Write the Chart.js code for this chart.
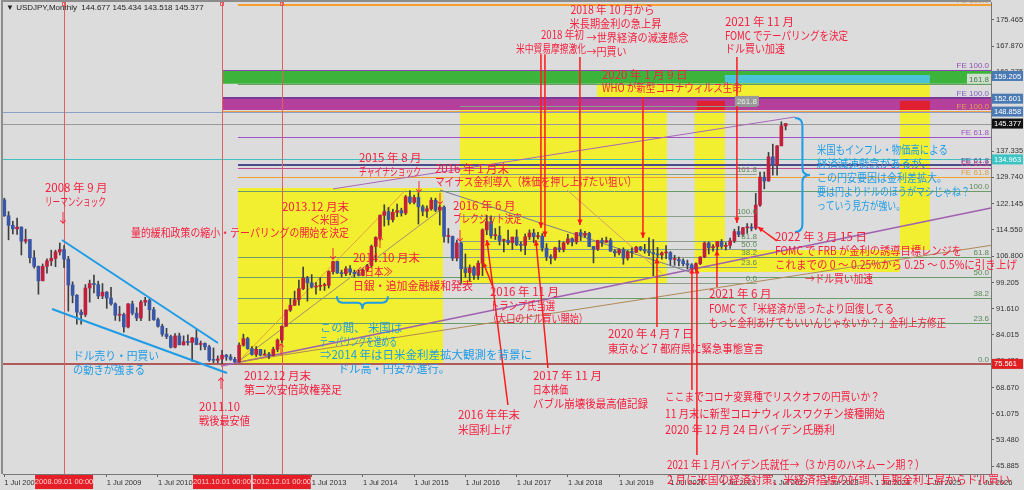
<!DOCTYPE html>
<html><head><meta charset="utf-8">
<script src="https://cdn.jsdelivr.net/npm/chart.js@4/dist/chart.umd.min.js"></script>
<style>html,body{margin:0;padding:0;background:#dcdcdc;}canvas{display:block}</style>
</head><body>
<canvas id="c" width="1024" height="490"></canvas>
<script>
// ---- data: USDJPY monthly, Jul 2007 .. Oct 2022 ----
const START_YEAR = 2007, START_MONTH = 7;
const opens = [
123.2,118.6,115.8,114.8,115.3,111.2,
111.7,106.4,103.9,99.7,103.9,105.5,106.2,108.1,108.8,106.0,98.5,95.5,
90.6,89.9,97.6,98.9,98.6,95.3,96.4,94.7,93.0,89.7,89.9,86.3,
93.0,90.3,88.9,93.5,94.0,91.3,88.4,86.5,84.2,83.5,80.4,83.7,
81.1,82.0,81.8,83.1,81.2,81.5,80.5,76.7,76.6,77.0,78.1,77.6,
76.9,76.2,81.0,82.9,80.0,78.3,79.8,78.1,78.4,78.0,79.8,82.5,
86.5,91.2,92.6,94.2,97.4,100.5,99.1,97.9,98.1,98.3,98.4,102.4,
105.3,102.0,101.8,103.2,102.2,101.8,101.3,102.8,104.1,109.7,112.3,118.7,
119.8,117.5,119.6,120.1,119.4,124.1,122.5,123.9,121.2,119.9,120.6,123.1,
120.2,121.1,112.6,112.6,106.3,110.7,103.2,102.1,103.4,101.3,104.8,114.5,
116.9,112.8,112.8,111.4,111.5,110.8,112.4,110.2,110.0,112.5,113.6,112.5,
112.7,109.2,106.7,106.3,109.3,108.8,110.7,111.9,111.0,113.7,112.9,113.5,
109.7,108.9,111.4,110.9,111.4,108.3,107.8,108.7,106.3,108.1,108.0,109.5,
108.7,108.4,107.9,107.5,107.2,107.8,107.9,105.9,105.9,105.5,104.7,104.3,
103.2,104.7,106.6,110.7,109.3,109.6,111.1,109.7,110.0,111.3,114.0,113.2,
115.1,115.1,115.0,121.7,129.8,128.7,135.7,133.3,138.9,144.677];
const highs = [
123.7,119.8,117.0,117.9,115.4,114.7,
111.7,108.5,104.0,104.6,106.1,108.6,108.6,110.7,109.9,106.8,99.4,95.7,
91.3,98.6,99.9,101.4,99.6,98.9,96.6,97.8,93.3,92.3,90.3,93.1,
93.8,91.9,94.0,94.9,94.5,92.0,88.9,87.1,85.9,83.9,84.4,84.5,
83.7,84.0,83.3,85.5,82.2,81.7,81.0,80.2,77.9,79.5,78.3,78.3,
77.5,81.7,84.2,83.3,80.6,80.6,79.8,79.6,78.9,80.4,82.8,86.6,
91.3,94.5,96.7,99.9,103.7,101.0,101.5,99.2,100.6,99.0,102.6,105.4,
105.4,102.8,103.8,104.1,102.8,102.8,103.1,104.5,110.1,112.5,118.9,121.8,
121.0,120.5,122.0,120.8,124.5,125.9,124.6,125.3,121.7,121.5,123.8,123.7,
121.7,121.5,114.9,112.7,111.5,110.9,107.5,104.3,104.0,105.5,114.8,118.7,
118.6,114.9,115.5,111.8,114.4,112.4,114.5,111.0,113.3,114.5,114.7,113.8,
113.4,110.5,107.3,109.5,111.4,111.0,113.2,112.2,113.7,114.6,114.1,113.8,
109.7,111.5,112.1,112.4,112.0,108.8,109.0,109.3,108.5,109.3,109.7,109.7,
110.3,112.2,111.7,109.4,108.1,109.9,108.2,107.1,106.6,106.1,105.7,104.7,
104.9,106.7,111.0,111.0,110.2,111.1,111.7,110.8,112.1,114.7,115.5,115.2,
116.35,116.3,125.1,131.3,131.3,137.0,139.4,139.0,145.9,145.434];
const lows = [
118.4,111.6,113.3,113.2,107.2,110.6,
104.9,103.4,95.8,99.7,101.9,104.1,103.8,107.2,103.5,90.9,93.3,87.1,
87.1,89.3,93.5,96.2,94.5,94.5,91.7,92.6,88.2,88.0,84.8,86.0,
89.8,88.1,88.1,92.5,88.1,88.2,86.2,83.6,82.9,80.2,80.2,81.1,
81.0,81.0,76.3,81.1,79.6,79.7,76.3,75.9,75.9,75.56,76.6,76.6,
76.0,76.1,80.7,79.8,78.1,77.7,77.9,78.1,77.1,77.9,79.1,81.7,
86.5,90.8,92.5,92.6,97.1,93.8,97.6,95.8,96.9,96.9,97.6,101.6,
101.8,100.8,101.2,101.4,100.8,101.1,101.1,102.4,103.8,105.2,111.5,115.6,
115.9,116.8,118.3,118.5,118.9,122.0,122.0,116.2,118.6,118.1,120.2,119.8,
115.9,110.9,110.7,105.6,105.5,99.0,100.7,99.6,100.1,100.1,101.2,113.1,
112.1,111.7,110.1,108.1,110.2,108.8,109.9,108.3,107.3,111.7,110.8,111.9,
108.3,105.6,104.6,105.7,108.1,108.1,110.3,109.8,110.4,111.4,112.3,109.6,
104.9,108.5,109.7,110.8,108.3,106.8,107.2,104.5,105.7,106.5,107.9,108.4,
107.7,107.0,101.2,106.4,106.0,106.1,104.2,104.2,104.0,104.0,103.2,102.9,
102.6,104.4,106.4,107.5,108.3,108.6,109.1,108.7,109.1,110.8,112.5,112.6,
113.5,114.2,114.6,121.3,126.4,128.6,130.4,130.4,138.9,143.518];
const closes = [
118.6,115.8,114.8,115.3,111.2,111.7,
106.4,103.9,99.7,103.9,105.5,106.2,108.1,108.8,106.0,98.5,95.5,90.6,
89.9,97.6,98.9,98.6,95.3,96.4,94.7,93.0,89.7,89.9,86.3,93.0,
90.3,88.9,93.5,94.0,91.3,88.4,86.5,84.2,83.5,80.4,83.7,81.1,
82.0,81.8,83.1,81.2,81.5,80.5,76.7,76.6,77.0,78.1,77.6,76.9,
76.2,81.0,82.9,80.0,78.3,79.8,78.1,78.4,78.0,79.8,82.5,86.5,
91.2,92.6,94.2,97.4,100.5,99.1,97.9,98.1,98.3,98.4,102.4,105.3,
102.0,101.8,103.2,102.2,101.8,101.3,102.8,104.1,109.7,112.3,118.7,119.8,
117.5,119.6,120.1,119.4,124.1,122.5,123.9,121.2,119.9,120.6,123.1,120.2,
121.1,112.6,112.6,106.3,110.7,103.2,102.1,103.4,101.3,104.8,114.5,116.9,
112.8,112.8,111.4,111.5,110.8,112.4,110.2,110.0,112.5,113.6,112.5,112.7,
109.2,106.7,106.3,109.3,108.8,110.7,111.9,111.0,113.7,112.9,113.5,109.7,
108.9,111.4,110.9,111.4,108.3,107.8,108.7,106.3,108.1,108.0,109.5,108.7,
108.4,107.9,107.5,107.2,107.8,107.9,105.9,105.9,105.5,104.7,104.3,103.2,
104.7,106.6,110.7,109.3,109.6,111.1,109.7,110.0,111.3,114.0,113.2,115.1,
115.1,115.0,121.7,129.8,128.7,135.7,133.3,138.9,144.7,145.377];
const yTickValues = [175.465,167.870,160.275,152.680,145.085,137.335,129.740,122.145,114.550,106.800,99.205,91.610,84.015,76.420,68.670,61.075,53.480,45.885];
const xTickLabels = ['1 Jul 2007','1 Jul 2008','1 Jul 2009','1 Jul 2010','1 Jul 2011','1 Jul 2012','1 Jul 2013','1 Jul 2014','1 Jul 2015','1 Jul 2016','1 Jul 2017','1 Jul 2018','1 Jul 2019','1 Jul 2020','1 Jul 2021','1 Jul 2022','1 Jul 2023','1 Jul 2024','1 Jul 2025','1 Jul 2026'];
const priceTags = [159.205,152.601,148.858,145.377,134.963,75.561];
const fib1 = {low:75.561, high:125.86, levels:[0,23.6,38.2,50,61.8,100,161.8]};
const fib2 = {low:98.98, high:118.66, levels:[0,23.6,38.2,50,61.8,100,161.8,261.8]};

// month index from 'YYYY-MM'
const monthLabels = opens.map((_, i) => { const m = START_MONTH - 1 + i; return (START_YEAR + Math.floor(m/12)) + '-' + String(m%12+1).padStart(2,'0'); });
const M = s => monthLabels.indexOf(s);

const wickData = opens.map((_, i) => ({x: i, y: [lows[i], highs[i]]}));
const bodyData = opens.map((_, i) => ({x: i, y: [opens[i], closes[i]]}));
const bodyColors = opens.map((o, i) => closes[i] >= o ? '#c0203c' : '#3a56a6');

const RED = '#f5203f', BLUE = '#1e9ce6', LRED = '#ff1a1a';
const JP = '"Noto Sans CJK JP","Noto Sans",sans-serif';

const notes = [
 {x:9.53, y:126.66, c:RED, lh:14, lines:[['2008 年 9 月',63],['リーマンショック',61]]},
 {x:80.73, y:121.14, c:RED, lh:13, align:'right', lines:[['2013.12 月末',70],['＜米国＞',39],['量的緩和政策の縮小・テーパリングの開始を決定',218]]},
 {x:83.07, y:135.37, c:RED, lh:13.5, lines:[['2015 年 8 月',63],['チャイナショック',62]]},
 {x:100.87, y:132.18, c:RED, lh:13, lines:[['2016 年 1 月末',75],['マイナス金利導入（株価を押し上げたい狙い）',202]]},
 {x:105.08, y:121.43, c:RED, lh:12.5, lines:[['2016 年 6 月',64],['ブレクジット決定',69]]},
 {x:81.66, y:106.33, c:RED, lh:14, lines:[['2014.10 月末',70],['≪日本≫',38,2],['日銀・追加金融緩和発表',120]]},
 {x:113.75, y:96.45, c:RED, lh:13.5, lines:[['2016 年 11 月',70],['トランプ氏当選',65],['（大口のドル買い開始）',100,-2]]},
 {x:123.82, y:72.05, c:RED, lh:14, lines:[['2017 年 11 月',71],['日本株価',35],['バブル崩壊後最高値記録',115]]},
 {x:106.25, y:60.72, c:RED, lh:15, lines:[['2016 年年末',62],['米国利上げ',54]]},
 {x:141.38, y:84.25, c:RED, lh:15, lines:[['2020 年 4 月 7 日',86],['東京など 7 都府県に緊急事態宣言',156]]},
 {x:165.03, y:95.87, c:RED, lh:14.5, lines:[['2021 年 6 月',67],['FOMC で「米経済が思ったより回復してる',185],['もっと金利あげてもいいんじゃないか？」金利上方修正',237]]},
 {x:180.49, y:112.42, c:RED, lh:14, lines:[['2022 年 3 月 15 日',92],['FOMC で FRB が金利の誘導目標レンジを',187],['これまでの 0 〜 0.25%から 0.25 〜 0.5%に引き上げ',242],['→ドル買い加速',68,30]]},
 {x:154.73, y:65.95, c:RED, lh:16.5, lines:[['ここまでコロナ変異種でリスクオフの円買いか？',215],['11 月末に新型コロナウィルスワクチン接種開始',220],['2020 年 12 月 24 日バイデン氏勝利',170]]},
 {x:155.2, y:46.19, c:RED, lh:15, lines:[['2021 年 1 月バイデン氏就任→（3 か月のハネムーン期？）',258],['2 月に米国の経済対策、米経済指標の好調、長期金利上昇からドル買い',343]]},
 {x:125.7, y:171.11, c:RED, lh:13.5, lines:[['2018 年初',43],['米中貿易摩擦激化',70,-25]]},
 {x:132.6, y:178.37, c:RED, lh:14, lines:[['2018 年 10 月から',84],['米長期金利の急上昇',92,-1],['→世界経済の減速懸念',102,16],['→円買い',40,16]]},
 {x:168.78, y:174.88, c:RED, lh:13.5, lines:[['2021 年 11 月',70],['FOMC でテーパリングを決定',123],['ドル買い加速',60]]},
 {x:139.98, y:159.49, c:RED, lh:13, lines:[['2020 年 1 月 9 日',86],['WHO が新型コロナウィルス生命',140]]},
 {x:56.14, y:72.05, c:RED, lh:14, lines:[['2012.12 月末',70],['第二次安倍政権発足',98]]},
 {x:45.6, y:63.04, c:RED, lh:14, lines:[['2011.10',41],['戦後最安値',51]]},
 {x:16.09, y:77.86, c:BLUE, lh:14, lines:[['ドル売り・円買い',86],['の動きが強まる',72]]},
 {x:73.94, y:85.99, c:BLUE, lh:13.5, lines:[['この間、 米国は',82],['テーパリングを進める',77],['⇒2014 年は日米金利差拡大観測を背景に',227],['ドル高・円安が進行。',112,18]]},
 {x:190.33, y:137.7, c:BLUE, lh:14, lines:[['米国もインフレ・物価高による',131],['経済減速懸念があるが、',115],['この円安要因は金利差拡大。',130],['要は円よりドルのほうがマシじゃね？',153],['っていう見方が強い。',88]]}
];
const arrowsDown = [[13.75,118.2],[76.98,107.78],[97.12,127.24],[102.04,123.76],[106.72,113.0]];
const arrowsUp = [[87.99,110.97],[64.8,79.89],[50.75,70.02]];
// pointer lines [x1,p1,x2,p2] arrow head at end
const pointers = [
 [114.45,97.9,112.11,105.16],[117.96,63.62,113.04,111.55],[127.33,74.37,124.5,111.55],
 [125.69,165.5,125.69,115.04],[126.63,165.5,126.63,112.42],[134.82,164.7,134.82,115.91],
 [149.58,153.1,149.58,112.13],[171.59,164.72,171.59,116.5],[180.96,111.3,176.51,115.33],
 [166.91,97.9,166.91,108.65],[152.86,86.28,152.86,106.33],[161.05,67.98,161.05,103.42],[162.22,49.1,162.22,103.42]
];

const overlay = {
 id:'overlay',
 beforeDraw(chart){ const c=chart.ctx; c.save(); c.fillStyle='#dcdcdc'; c.fillRect(0,0,chart.width,chart.height); c.restore(); },
 beforeDatasetsDraw(chart){
  const c=chart.ctx, xs=chart.scales.x, ys=chart.scales.y, a=chart.chartArea;
  const X=v=>xs.getPixelForValue(v), Y=v=>ys.getPixelForValue(v), XR=xs.max, XL=xs.min;
  c.save(); c.beginPath(); c.rect(a.left,a.top,a.right-a.left,a.bottom-a.top); c.clip();
  const rect=(x1,p1,x2,p2,col)=>{c.fillStyle=col; c.fillRect(X(x1),Y(p1),X(x2)-X(x1),Y(p2)-Y(p1));};
  const hl=(p,x1,x2,col,w)=>{c.strokeStyle=col; c.lineWidth=w||1; const y=Math.round(Y(p))+((w||1)%2?0.5:0); c.beginPath(); c.moveTo(X(x1),y); c.lineTo(X(x2),y); c.stroke();};
  const ln=(x1,p1,x2,p2,col,w)=>{c.strokeStyle=col; c.lineWidth=w||1; c.beginPath(); c.moveTo(X(x1),Y(p1)); c.lineTo(X(x2),Y(p2)); c.stroke();};
  const Y0=M('2011-10'), Y1=54.73;
  // yellow boxes
  const YEL='#f2ef30';
  rect(Y1,126.66,102.74,75.83,YEL);
  rect(106.72,149.32,155.2,99.06,YEL);
  rect(161.7,149.32,168.78,102.26,YEL);
  rect(161.7,108.65,209.77,102.26,YEL);
  rect(209.77,149.32,216.79,108.65,YEL);
  // top bands
  rect(Y0,160.94,XR,156.95,'#3cb43c');
  rect(168.78,159.49,216.79,157.17,'#4ac4d6');
  rect(138.8,156.95,216.79,152.81,YEL);
  rect(Y0,152.81,XR,149.32,'#b4409c');
  rect(162.22,152.0,168.78,149.32,'#e02030');
  rect(209.77,152.0,216.79,149.32,'#e02030');
  hl(152.81,Y0,XR,'#7a3c98',2);
  hl(160.94,Y0,XR,'#8a4ab0',1);
  hl(179.82,Y1,XR,'#f5a030',2);
  hl(149.0,Y0,XR,'#f0a040',1);
  hl(148.74,XL,XR,'#8aa0c6',1);
  hl(145.377,XL,XR,'#9a9a9a',1);
  hl(141.48,Y1,XR,'#a050c8',1);
  hl(134.963,XL,XR,'#40c0c0',1);
  hl(133.34,Y1,XR,'#4c4c8c',2);
  hl(132.47,Y1,XR,'#c04890',1);
  hl(129.86,Y1,XR,'#f0a030',1);
  // fib 1
  fib1.levels.forEach(l=>{ const p=fib1.low+(fib1.high-fib1.low)*l/100; if(l===0) hl(p,XL,XR,'#b05a5a',2); else hl(p,Y1,XR,'#6a9c6a',1); });
  // fib 2
  fib2.levels.forEach(l=>{ const p=fib2.low+(fib2.high-fib2.low)*l/100; hl(p,106.72,176.28,'#8aa08a',1); });
  // trend lines
  ln(50.75,74.96,231.07,120.85,'#a060b0',1.5);
  ln(77,126.4,185.2,147.3,'#a868b8',1);
  ln(102.04,126.08,160.59,102.26,'#7a7a90',1);
  ln(131.8,126.08,153.9,102.0,'#d8a060',1);
  ln(Y1,76.12,94.0,126.08,'#e8a040',1);
  ln(Y1,76.12,102.74,120.85,'#a09070',1);
  ln(Y1,76.12,231.07,110.0,'#b08858',1);
  // MT4 vertical lines
  [M('2008-09'),M('2011-10'),M('2012-12')].forEach(m=>{ const x=Math.round(X(m))+0.5; c.strokeStyle='#e06060'; c.lineWidth=1; c.beginPath(); c.moveTo(x,a.top); c.lineTo(x,a.bottom); c.stroke(); });
  c.restore();
 },
 afterDatasetsDraw(chart){
  const c=chart.ctx, xs=chart.scales.x, ys=chart.scales.y, a=chart.chartArea;
  const X=v=>xs.getPixelForValue(v), Y=v=>ys.getPixelForValue(v);
  c.save();
  // blue channel
  c.strokeStyle=BLUE; c.lineWidth=2;
  [[13.51,111.55,50.05,81.63],[11.17,91.51,52.15,72.92]].forEach(s=>{c.beginPath(); c.moveTo(X(s[0]),Y(s[1])); c.lineTo(X(s[2]),Y(s[3])); c.stroke();});
  // pointers
  pointers.forEach(s=>{
   const x1=X(s[0]),y1=Y(s[1]),x2=X(s[2]),y2=Y(s[3]);
   c.strokeStyle=LRED; c.fillStyle=LRED; c.lineWidth=1.5;
   c.beginPath(); c.moveTo(x1,y1); c.lineTo(x2,y2); c.stroke();
   const ang=Math.atan2(y2-y1,x2-x1), h=6;
   c.beginPath(); c.moveTo(x2,y2); c.lineTo(x2-h*Math.cos(ang-0.45),y2-h*Math.sin(ang-0.45)); c.lineTo(x2-h*Math.cos(ang+0.45),y2-h*Math.sin(ang+0.45)); c.closePath(); c.fill();
  });
  // arrows glyphs
  c.font='13px '+JP; c.fillStyle=RED; c.textAlign='center'; c.textBaseline='middle';
  arrowsDown.forEach(p=>c.fillText('↓',X(p[0]),Y(p[1])));
  arrowsUp.forEach(p=>c.fillText('↑',X(p[0]),Y(p[1])));
  // braces
  c.strokeStyle=BLUE; c.lineWidth=2;
  { const xL=X(185.18), xT=X(188.69), yT=Y(147.0), yB=Y(113.88), yM=(yT+yB)/2, xm=(xL+xT)/2;
    c.beginPath(); c.moveTo(xL,yT); c.quadraticCurveTo(xm,yT,xm,yT+8); c.lineTo(xm,yM-7); c.quadraticCurveTo(xm,yM,xT,yM); c.quadraticCurveTo(xm,yM,xm,yM+7); c.lineTo(xm,yB-8); c.quadraticCurveTo(xm,yB,xL,yB); c.stroke(); }
  { const xL=X(77.9), xR=X(89.86), yT=Y(95.2), yTip=Y(91.51), yM=(yT+yTip)/2, xc=(xL+xR)/2;
    c.beginPath(); c.moveTo(xL,yT); c.quadraticCurveTo(xL,yM,xL+6,yM); c.lineTo(xc-5,yM); c.quadraticCurveTo(xc,yM,xc,yTip); c.quadraticCurveTo(xc,yM,xc+5,yM); c.lineTo(xR-6,yM); c.quadraticCurveTo(xR,yM,xR,yT); c.stroke(); }
  // level labels
  c.font='8px "Liberation Sans",sans-serif'; c.textBaseline='alphabetic'; c.textAlign='right';
  const RX=a.right-2;
  const lab=(t,p,col,x,bg)=>{ const xx=x||RX, yy=Y(p)-2; if(bg){ const w=c.measureText(t).width; c.fillStyle=bg; c.fillRect(xx-w-2,yy-8,w+4,10);} c.fillStyle=col; c.fillText(t,xx,yy);};
  fib1.levels.forEach(l=>{ const p=fib1.low+(fib1.high-fib1.low)*l/100; if(l===161.8) lab('161.8',p,'#4a7a4a',RX,'#cfe0cf'); else lab(l.toFixed(1),p,'#5a8a5a'); });
  fib2.levels.forEach(l=>{ const p=fib2.low+(fib2.high-fib2.low)*l/100; if(l===261.8) lab('261.8',p,'#e8f0e8',X(176.28),'#9a9a9a'); else lab(l.toFixed(1),p,'#5a8a5a',X(176.28)); });
  lab('FE 100.0',179.82,'#e89a40'); lab('FE 100.0',160.94,'#9050b0'); lab('FE 100.0',152.81,'#8060c0'); lab('FE 100.0',149.0,'#e0a050');
  lab('FE 61.8',141.48,'#a050c8'); lab('FE 61.8',133.34,'#5050a0'); lab('FE 61.8',132.47,'#d04890'); lab('FE 61.8',129.86,'#e0a040');
  // notes
  notes.forEach(n=>{
   c.font='11.5px '+JP; c.fillStyle=n.c; c.textBaseline='middle'; c.textAlign=n.align||'left';
   const x0=X(n.x), y0=Y(n.y);
   n.lines.forEach((ln,i)=>{ const w=c.measureText(ln[0]).width; const x=x0+(ln[2]||0), y=y0+i*n.lh;
     if (w>ln[1]) c.fillText(ln[0],x,y,ln[1]); else c.fillText(ln[0],x,y); });
  });
  c.restore();
 },
 afterDraw(chart){
  const c=chart.ctx, xs=chart.scales.x, ys=chart.scales.y, a=chart.chartArea;
  const X=v=>xs.getPixelForValue(v), Y=v=>ys.getPixelForValue(v);
  c.save();
  // frame
  c.strokeStyle='#8c8c8c'; c.lineWidth=2; c.beginPath(); c.moveTo(a.left-1,a.bottom); c.lineTo(a.left-1,a.top-1); c.lineTo(a.right,a.top-1); c.stroke();
  // header
  c.font='8px "Liberation Sans",sans-serif'; c.fillStyle='#222'; c.textAlign='left'; c.textBaseline='middle';
  c.fillText('▼ USDJPY,Monthly  144.677 145.434 143.518 145.377',6,8);
  // price tags
  const tagCol={159.205:'#4a7ab4',152.601:'#4a7ab4',148.858:'#4a7ab4',145.377:'#111',134.963:'#3cc4c4',75.561:'#e02020'};
  c.font='7.5px "Liberation Sans",sans-serif';
  priceTags.forEach(p=>{ const y=Y(p); c.fillStyle=tagCol[p]; c.fillRect(a.right+1,y-5,31,10); c.fillStyle='#fff'; c.fillText(p.toFixed(3),a.right+3,y+0.5); });
  // MT4 vertical-line date tags
  [['2008-09','2008.09.01 00:00'],['2011-10','2011.10.01 00:00'],['2012-12','2012.12.01 00:00']].forEach(d=>{ const x=X(M(d[0])); c.fillStyle='#e61e28'; c.fillRect(x-29,a.bottom+1,58,14); c.fillStyle='#ffd0d0'; c.textAlign='center'; c.fillText(d[1],x,a.bottom+8);
    c.strokeStyle='#e06060'; c.lineWidth=1; c.strokeRect(Math.round(x)-1.5,a.top+0.5,3,3); });
  c.restore();
 }
};

new Chart(document.getElementById('c'), {
 type:'bar',
 data:{ datasets:[
  {data:wickData, backgroundColor:'#404040', barThickness:1, grouped:false, order:2},
  {data:bodyData, backgroundColor:bodyColors, barThickness:3, grouped:false, minBarLength:1, order:1}
 ]},
 options:{
  responsive:false, animation:false, events:[],
  layout:{padding:{left:3,top:2,right:0,bottom:0}},
  plugins:{legend:{display:false}, tooltip:{enabled:false}},
  scales:{
   x:{type:'linear', min:-0.3, max:231.1, offset:false, position:'bottom',
      grid:{display:true, offset:false, drawOnChartArea:false, drawTicks:true, tickLength:3, color:'#666'},
      border:{display:true, color:'#777', width:1},
      afterBuildTicks:s=>{ s.ticks = xTickLabels.map((_,i)=>({value:i*12})); },
      ticks:{autoSkip:false, maxRotation:0, align:'start', padding:1, color:'#333', font:{family:'"Liberation Sans",sans-serif', size:7.5}, callback:(v)=>xTickLabels[Math.round(v/12)]},
      afterFit:s=>{ s.height=16; s.paddingLeft=0; s.paddingRight=0; }},
   y:{type:'linear', position:'right', min:43.58, max:180.69,
      grid:{display:true, drawOnChartArea:false, drawTicks:true, tickLength:3, color:'#666'},
      border:{display:true, color:'#777', width:1},
      afterBuildTicks:s=>{ s.ticks = yTickValues.map(v=>({value:v})); },
      ticks:{autoSkip:false, padding:2, color:'#333', font:{family:'"Liberation Sans",sans-serif', size:7.5}, callback:v=>Number(v).toFixed(3)},
      afterFit:s=>{ s.width=33; s.paddingTop=0; s.paddingBottom=0; }}
  }
 },
 plugins:[overlay]
});
</script>
</body></html>
